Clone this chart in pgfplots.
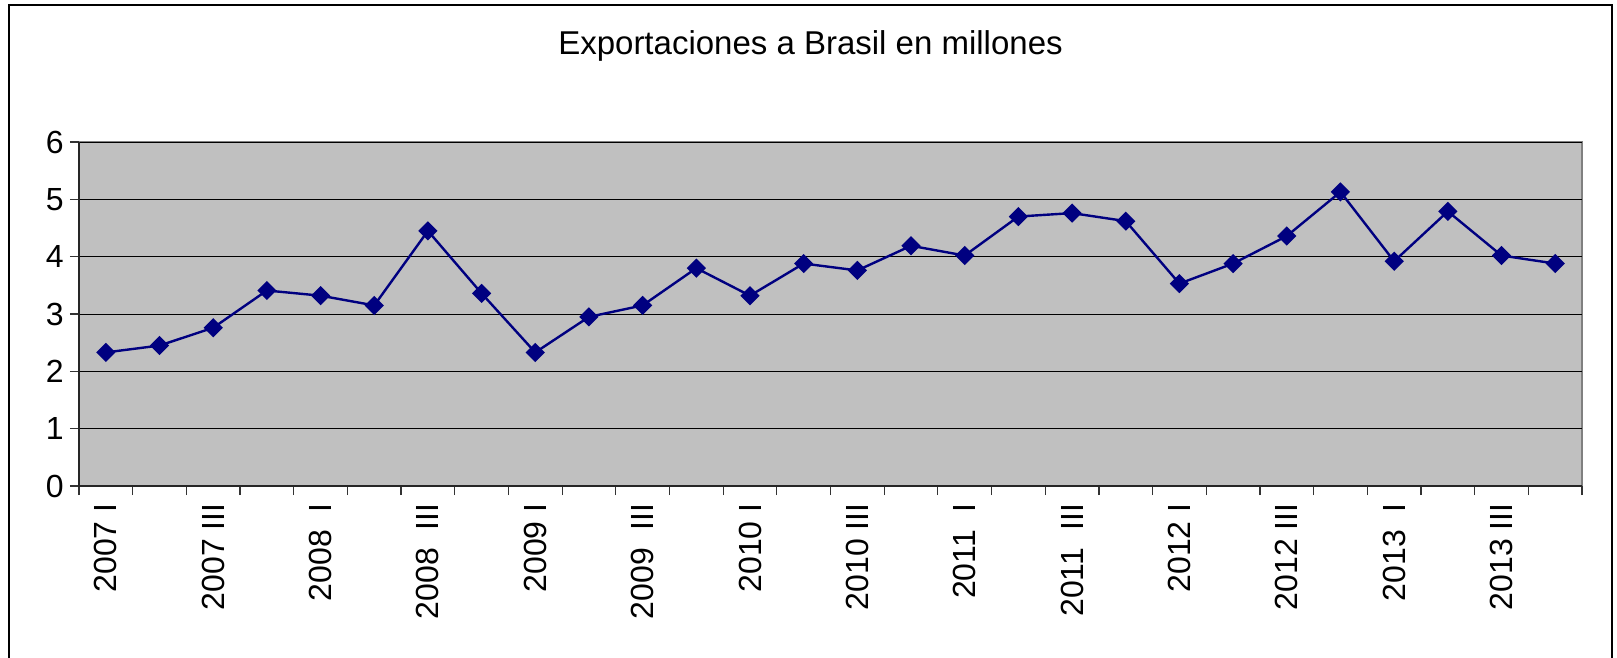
\documentclass[border=0pt]{standalone}
\usepackage{fontspec}
\setmainfont{Liberation Sans}
\usepackage{pgfplots}
\pgfplotsset{compat=1.18}
\definecolor{plotbg}{HTML}{C0C0C0}
\definecolor{navy}{HTML}{000080}

\begin{document}
\begin{tikzpicture}[x=1bp,y=1bp]
\useasboundingbox (-39.5,-85.5) rectangle (769,243);
% outer chart frame (bottom edge falls outside the picture)
\draw[line width=0.8bp] (-35,-95) -- (-35,240.5) -- (766.5,240.5) -- (766.5,-95);
\node[font=\fontsize{16.5bp}{19bp}\selectfont] at (365.75,220) {Exportaciones a Brasil en millones};
\begin{axis}[
    at={(0,0)}, anchor=south west,
    scale only axis,
    width=751.5bp, height=172bp,
    xmin=0.5, xmax=28.5,
    ymin=0, ymax=6,
    axis line style={draw=none},
    axis background/.style={fill=plotbg, draw=gray, line width=1bp},
    xtick pos=bottom, ytick pos=left,
    xtick={0.5,1.5,...,28.5},
    xticklabels={},
    extra x ticks={1,3,...,27},
    extra x tick labels={2007 I,2007 III,2008\ \ I,2008\ \ III,2009 I,2009\ \ III,2010 I,2010 III,2011\ \ I,2011\ \ III,2012 I,2012 III,2013\ \ I,2013 III},
    extra x tick style={tick style={draw=none}, grid=none},
    xticklabel style={rotate=90, anchor=east, inner sep=0pt, xshift=-4bp},
    ytick={0,...,6},
    yticklabel style={anchor=east, inner sep=0pt, xshift=-3bp},
    ymajorgrids,
    grid style={black, line width=0.5bp},
    tick align=outside,
    major tick length=4.5bp,
    tick style={black!80, line width=0.6bp},
    tick label style={font=\fontsize{16bp}{18bp}\selectfont},
    /pgf/number format/assume math mode=true,
    clip=false,
]
\addplot[navy, line width=1.2bp, mark=square*, mark size=2.8bp, mark options={rotate=45, fill=navy}] coordinates {
    (1,2.33) (2,2.45) (3,2.76) (4,3.41) (5,3.32) (6,3.15) (7,4.45)
    (8,3.36) (9,2.33) (10,2.95) (11,3.15) (12,3.80) (13,3.32) (14,3.88)
    (15,3.76) (16,4.19) (17,4.02) (18,4.70) (19,4.76) (20,4.62) (21,3.53)
    (22,3.88) (23,4.36) (24,5.13) (25,3.92) (26,4.79) (27,4.02) (28,3.88)
};
\draw[black!85, line width=0.9bp] (rel axis cs:0,1) -- (rel axis cs:0,0) -- (rel axis cs:1,0);
\end{axis}
\end{tikzpicture}
\end{document}
